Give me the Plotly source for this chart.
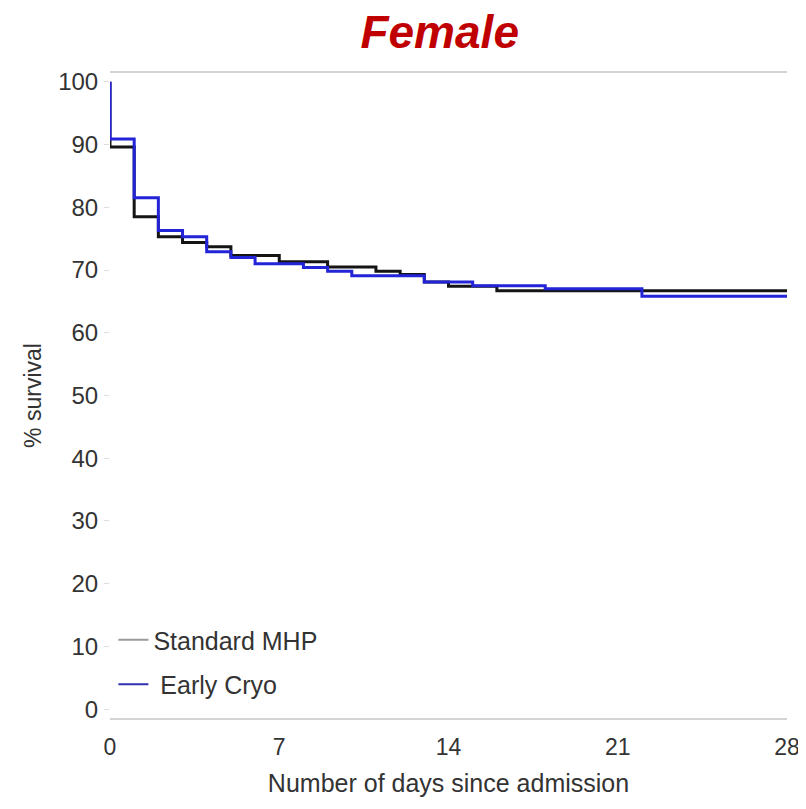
import plotly.graph_objects as go

# Kaplan-Meier step data (days since admission, % survival)
std_days = [0, 0, 1, 2, 3, 4, 5, 7, 9, 11, 12, 13, 14, 16, 28]
std_surv = [100, 89.6, 78.5, 75.3, 74.4, 73.7, 72.3, 71.3, 70.5, 69.8, 69.3, 68.1, 67.4, 66.7, 66.7]

cryo_days = [0, 0, 1, 2, 3, 4, 5, 6, 8, 9, 10, 13, 15, 18, 22, 28]
cryo_surv = [100, 90.9, 81.5, 76.3, 75.3, 72.9, 72.0, 71.0, 70.4, 69.8, 69.1, 68.1, 67.5, 67.0, 65.8, 65.8]

x_ticks = [0, 7, 14, 21, 28]
y_ticks = [0, 10, 20, 30, 40, 50, 60, 70, 80, 90, 100]

FONT = "Liberation Sans"

fig = go.Figure()
fig.add_trace(go.Scatter(x=std_days, y=std_surv, mode="lines", line=dict(shape="hv", color="#141414", width=3),
                         name="Standard MHP", showlegend=False))
fig.add_trace(go.Scatter(x=cryo_days, y=cryo_surv, mode="lines", line=dict(shape="hv", color="#2323d8", width=3),
                         name="Early Cryo", showlegend=False))
# legend entries
fig.add_trace(go.Scatter(x=[None], y=[None], mode="lines", line=dict(color="#9a9a9a", width=2),
                         name="Standard MHP", legendgroup="a"))
fig.add_trace(go.Scatter(x=[None], y=[None], mode="lines", line=dict(color="#3030b0", width=2),
                         name=" Early Cryo", legendgroup="b"))

fig.update_layout(
    width=798, height=801,
    margin=dict(l=102, r=19, t=65, b=91),
    paper_bgcolor="white", plot_bgcolor="white",
    font=dict(family=FONT, size=20, color="#333333"),
    title=dict(text="<b><i>Female</i></b>", x=0.541, xref="container", xanchor="center",
               y=0.9905, yref="container", yanchor="top",
               font=dict(family="Liberation Sans", size=46, color="#c00000")),
    xaxis=dict(range=[0, 28], tickvals=x_ticks, showgrid=False, zeroline=False, automargin=False,
               showline=True, mirror=True, linecolor="#d4d4d4", linewidth=2,
               ticks="", ticklabelstandoff=7, tickfont=dict(size=23),
               title=dict(text="Number of days since admission", standoff=16, font=dict(size=25))),
    yaxis=dict(range=[-1.4, 101.4], tickvals=y_ticks, showgrid=False, zeroline=False,
               showline=False, ticks="outside", ticklen=5, tickcolor="#dddddd", tickwidth=1,
               ticklabelstandoff=1, tickfont=dict(size=24),
               title=dict(text="% survival", standoff=10, font=dict(size=23))),
    legend=dict(x=0.005, y=0.017, xanchor="left", yanchor="bottom", bgcolor="rgba(0,0,0,0)",
                tracegroupgap=9, traceorder="grouped", font=dict(size=25, color="#333333"),
                itemwidth=30),
)

fig.write_html("out.html")
